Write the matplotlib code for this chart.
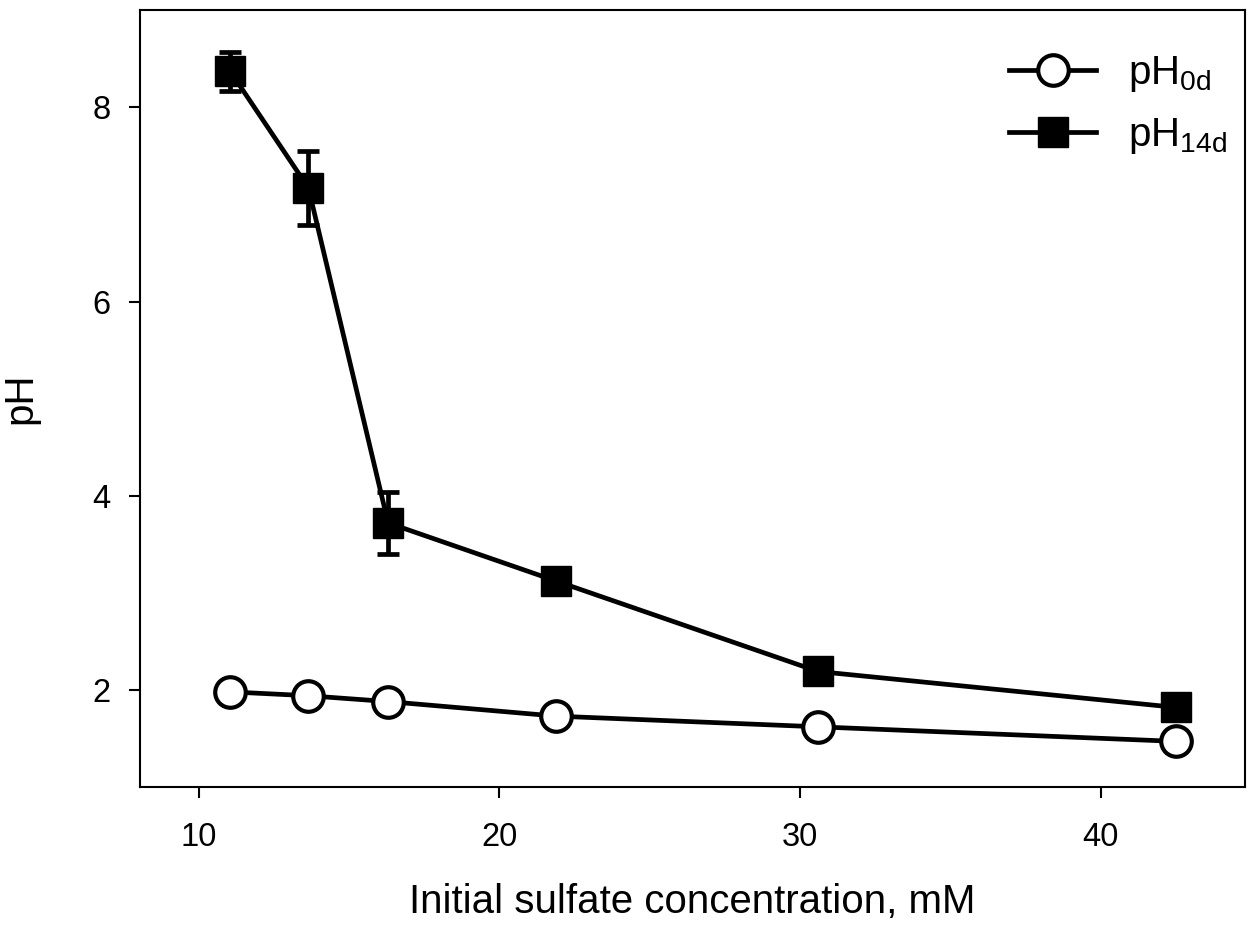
import numpy as np
import matplotlib
matplotlib.use("Agg")
import matplotlib.pyplot as plt
from matplotlib.lines import Line2D

plt.rcParams['font.family'] = ['Liberation Sans', 'DejaVu Sans']
plt.rcParams['mathtext.default'] = 'regular'

# sulfate concentration (mM)
sulfate = [11.05, 13.65, 16.3, 21.9, 30.6, 42.5]
ph_0d = [1.98, 1.94, 1.88, 1.73, 1.62, 1.47]
ph_14d = [8.37, 7.17, 3.72, 3.12, 2.19, 1.82]
ph_14d_err = [0.2, 0.38, 0.32, 0.0, 0.0, 0.0]

fig = plt.figure(figsize=(12.57, 9.27), dpi=100)
ax = fig.add_axes([0.1114, 0.151, 0.8791, 0.838])

ax.plot(sulfate, ph_0d, color='black', lw=3.4, marker='o', ms=22,
        mfc='white', mec='black', mew=3, zorder=3)
ax.errorbar(sulfate, ph_14d, yerr=ph_14d_err, color='black', lw=3.4,
            marker='s', ms=21, mfc='black', mec='black',
            capsize=8, capthick=3.4, elinewidth=3.4, zorder=4)

ax.set_xlim(8.05, 44.8)
ax.set_ylim(1.0, 9.0)
ax.set_xticks([10, 20, 30, 40])
ax.set_yticks([2, 4, 6, 8])
ax.tick_params(direction='out', length=8, width=1.5, labelsize=23.5)
ax.tick_params(axis='x', pad=17)
ax.tick_params(axis='y', pad=13)
for s in ax.spines.values():
    s.set_linewidth(1.5)

ax.set_xlabel('Initial sulfate concentration, mM', fontsize=29, labelpad=22)
ax.set_ylabel('pH', fontsize=29, labelpad=38)

handles = [
    Line2D([], [], color='black', lw=3.4, marker='o', ms=22, mfc='white',
           mec='black', mew=3),
    Line2D([], [], color='black', lw=3.4, marker='s', ms=21, mfc='black',
           mec='black'),
]
labels = ['pH$_{0d}$', 'pH$_{14d}$']
ax.legend(handles, labels, loc='upper right', frameon=False, fontsize=29,
          handlelength=2.15, handletextpad=0.8, borderaxespad=0.4,
          labelspacing=0.55, bbox_to_anchor=(1.013, 0.985))

fig.savefig('out.png', dpi=100)
